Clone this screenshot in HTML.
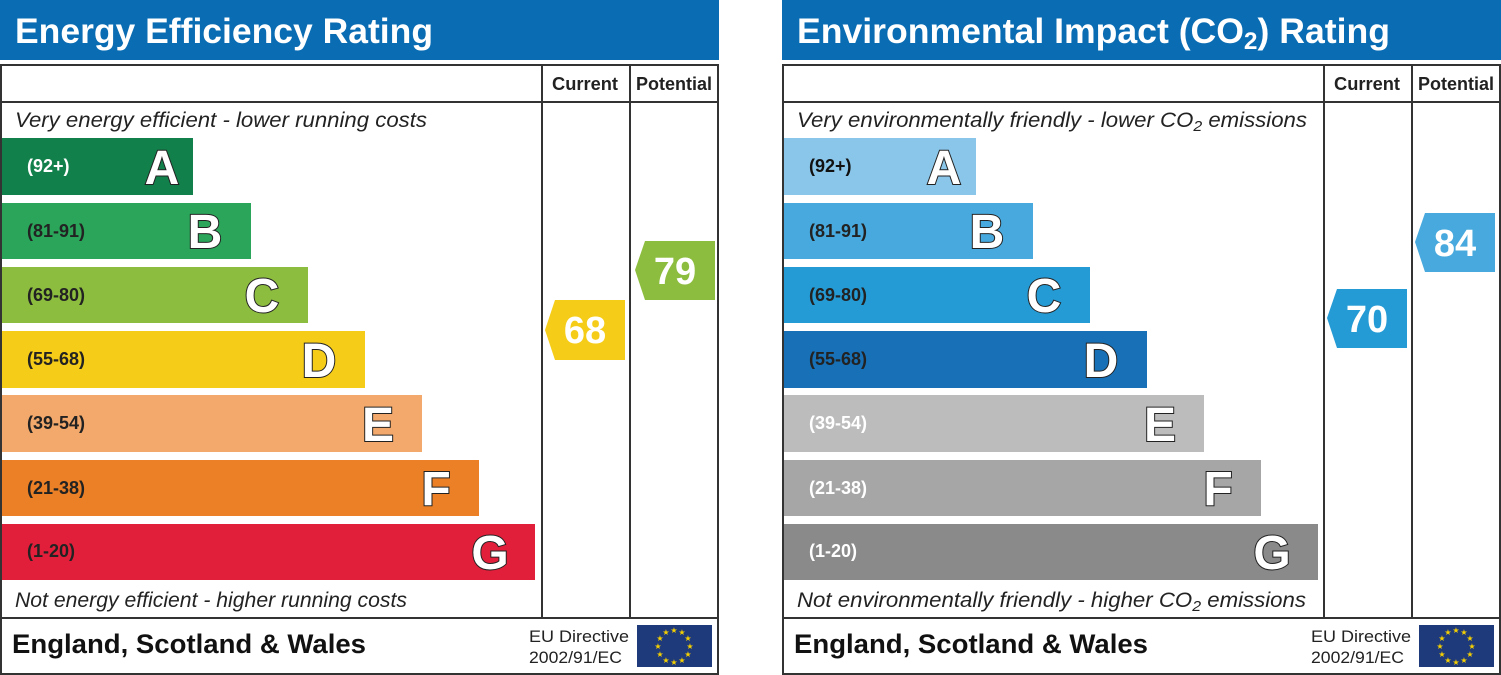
<!DOCTYPE html>
<html><head><meta charset="utf-8"><style>
html,body{margin:0;padding:0;background:#fff;width:1501px;height:675px;overflow:hidden}
svg{display:block;font-family:"Liberation Sans",Arial,sans-serif}
.let{font-weight:bold;font-size:48px;fill:#fff;stroke:#222;stroke-width:2;paint-order:stroke}
.rng{font-weight:bold;font-size:18px}
</style></head><body>
<svg width="1501" height="675" viewBox="0 0 1501 675">
<defs>
<g id="frame">
  <rect x="0" y="0" width="719" height="60" fill="#0a6cb3"/>
  <rect x="1" y="65" width="717" height="609" fill="#fff" stroke="#333" stroke-width="2"/>
  <line x1="1" y1="102" x2="718" y2="102" stroke="#333" stroke-width="2"/>
  <line x1="542" y1="65" x2="542" y2="618" stroke="#333" stroke-width="2"/>
  <line x1="630" y1="65" x2="630" y2="618" stroke="#333" stroke-width="2"/>
  <line x1="1" y1="618" x2="718" y2="618" stroke="#333" stroke-width="2"/>
  <text x="552" y="90" font-size="18" font-weight="bold" fill="#222" textLength="66" lengthAdjust="spacingAndGlyphs">Current</text>
  <text x="636" y="90" font-size="18" font-weight="bold" fill="#222" textLength="76" lengthAdjust="spacingAndGlyphs">Potential</text>
  <text x="12" y="653" font-size="27" font-weight="bold" fill="#111" textLength="354" lengthAdjust="spacingAndGlyphs">England, Scotland &amp; Wales</text>
  <text x="529" y="642" font-size="17" fill="#222" textLength="100" lengthAdjust="spacingAndGlyphs">EU Directive</text>
  <text x="529" y="663" font-size="17" fill="#222" textLength="93" lengthAdjust="spacingAndGlyphs">2002/91/EC</text>
  <rect x="637" y="625" width="75" height="42" fill="#1f3a7a"/>
  <g fill="#f5d000" font-size="8" text-anchor="middle">
    <text x="674" y="633">★</text><text x="682" y="635">★</text><text x="688" y="641">★</text><text x="690" y="649">★</text>
    <text x="688" y="657">★</text><text x="682" y="663">★</text><text x="674" y="665">★</text><text x="666" y="663">★</text>
    <text x="660" y="657">★</text><text x="658" y="649">★</text><text x="660" y="641">★</text><text x="666" y="635">★</text>
  </g>
</g>
</defs>

<use href="#frame"/>
<text x="15" y="43" font-size="35" font-weight="bold" fill="#fff" textLength="418" lengthAdjust="spacingAndGlyphs">Energy Efficiency Rating</text>
<text x="15" y="127" font-size="21" font-style="italic" fill="#222" textLength="412" lengthAdjust="spacingAndGlyphs">Very energy efficient - lower running costs</text>
<text x="15" y="607" font-size="21" font-style="italic" fill="#222" textLength="392" lengthAdjust="spacingAndGlyphs">Not energy efficient - higher running costs</text>
<rect x="2" y="138" width="191" height="57" fill="#12804b"/>
<rect x="2" y="203" width="249" height="56" fill="#2aa55a"/>
<rect x="2" y="267" width="306" height="56" fill="#8dbd3f"/>
<rect x="2" y="331" width="363" height="57" fill="#f5cc18"/>
<rect x="2" y="395" width="420" height="57" fill="#f3a96b"/>
<rect x="2" y="460" width="477" height="56" fill="#ec8026"/>
<rect x="2" y="524" width="533" height="56" fill="#e21f3b"/>
<g class="rng">
<text x="27" y="172" fill="#fff">(92+)</text>
<text x="27" y="237" fill="#222">(81-91)</text>
<text x="27" y="301" fill="#222">(69-80)</text>
<text x="27" y="365" fill="#222">(55-68)</text>
<text x="27" y="429" fill="#222">(39-54)</text>
<text x="27" y="494" fill="#222">(21-38)</text>
<text x="27" y="557" fill="#222">(1-20)</text>
</g>
<g class="let" text-anchor="middle">
<text x="162" y="184">A</text><text x="205" y="248">B</text><text x="262" y="312">C</text>
<text x="319" y="377">D</text><text x="378" y="441">E</text><text x="436" y="505">F</text><text x="490" y="569">G</text>
</g>
<polygon points="555,300 625,300 625,360 555,360 545,330" fill="#f5cc18"/>
<text x="585" y="343" font-size="38" font-weight="bold" fill="#fff" text-anchor="middle">68</text>
<polygon points="645,241 715,241 715,300 645,300 635,270" fill="#8dbd3f"/>
<text x="675" y="284" font-size="38" font-weight="bold" fill="#fff" text-anchor="middle">79</text>

<use href="#frame" x="782"/>
<text x="797" y="43" font-size="35" font-weight="bold" fill="#fff" textLength="593" lengthAdjust="spacingAndGlyphs">Environmental Impact (CO<tspan font-size="24" dy="6">2</tspan><tspan dy="-6">) Rating</tspan></text>
<text x="797" y="127" font-size="21" font-style="italic" fill="#222" textLength="510" lengthAdjust="spacingAndGlyphs">Very environmentally friendly - lower CO<tspan font-size="15" dy="4">2</tspan><tspan dy="-4"> emissions</tspan></text>
<text x="797" y="607" font-size="21" font-style="italic" fill="#222" textLength="509" lengthAdjust="spacingAndGlyphs">Not environmentally friendly - higher CO<tspan font-size="15" dy="4">2</tspan><tspan dy="-4"> emissions</tspan></text>
<rect x="784" y="138" width="192" height="57" fill="#8ac6ea"/>
<rect x="784" y="203" width="249" height="56" fill="#47a9dd"/>
<rect x="784" y="267" width="306" height="56" fill="#259bd5"/>
<rect x="784" y="331" width="363" height="57" fill="#1870b6"/>
<rect x="784" y="395" width="420" height="57" fill="#bcbcbc"/>
<rect x="784" y="460" width="477" height="56" fill="#a6a6a6"/>
<rect x="784" y="524" width="534" height="56" fill="#8a8a8a"/>
<g class="rng">
<text x="809" y="172" fill="#111">(92+)</text>
<text x="809" y="237" fill="#222">(81-91)</text>
<text x="809" y="301" fill="#222">(69-80)</text>
<text x="809" y="365" fill="#222">(55-68)</text>
<text x="809" y="429" fill="#fff">(39-54)</text>
<text x="809" y="494" fill="#fff">(21-38)</text>
<text x="809" y="557" fill="#fff">(1-20)</text>
</g>
<g class="let" text-anchor="middle">
<text x="944" y="184">A</text><text x="987" y="248">B</text><text x="1044" y="312">C</text>
<text x="1101" y="377">D</text><text x="1160" y="441">E</text><text x="1218" y="505">F</text><text x="1272" y="569">G</text>
</g>
<polygon points="1337,289 1407,289 1407,348 1337,348 1327,318" fill="#259bd5"/>
<text x="1367" y="332" font-size="38" font-weight="bold" fill="#fff" text-anchor="middle">70</text>
<polygon points="1425,213 1495,213 1495,272 1425,272 1415,242" fill="#47a9dd"/>
<text x="1455" y="256" font-size="38" font-weight="bold" fill="#fff" text-anchor="middle">84</text>
</svg>
</body></html>
